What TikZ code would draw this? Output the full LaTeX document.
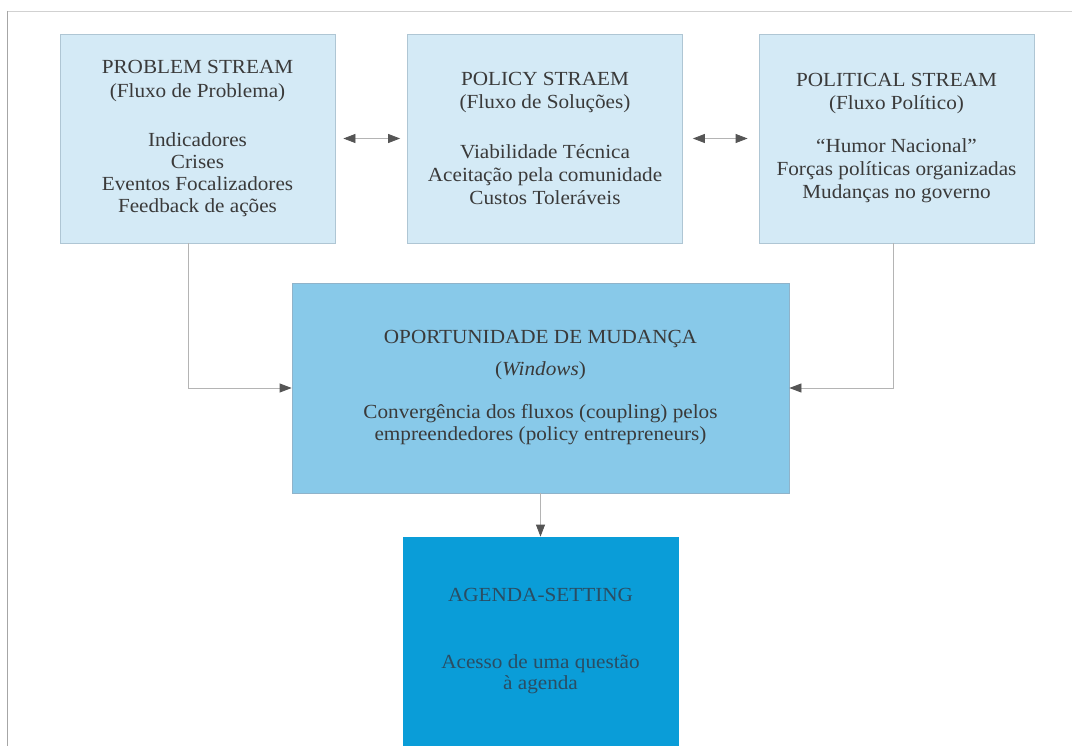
\documentclass[tikz,border=0pt]{standalone}
\usepackage{fontspec}
\setmainfont{Liberation Serif}[FakeStretch=1.06]
\usetikzlibrary{arrows.meta}
\definecolor{txt}{HTML}{3A3A3A}
\definecolor{topfill}{HTML}{D4EAF6}
\definecolor{topdraw}{HTML}{AFC6D4}
\definecolor{midfill}{HTML}{88C9E9}
\definecolor{middraw}{HTML}{8FB3CA}
\definecolor{agfill}{HTML}{0A9DD8}
\definecolor{agtxt}{HTML}{2A4D63}
\definecolor{linegray}{HTML}{B4B4B4}
\definecolor{headgray}{HTML}{555555}
\tikzset{
  box/.style={draw=topdraw, fill=topfill, line width=0.8pt, inner sep=0pt, align=center,
    text=txt, font=\fontsize{20}{22}\selectfont},
  topbox/.style={box, minimum width=275pt, minimum height=209pt},
  midbox/.style={box, fill=midfill, draw=middraw, minimum width=497pt, minimum height=210pt},
  agbox/.style={box, fill=agfill, draw=agfill, text=agtxt, minimum width=275pt, minimum height=209pt},
  conn/.style={draw=linegray, line width=0.8pt, -{Triangle[length=12pt,width=9pt,color=headgray]}},
  dconn/.style={draw=linegray, line width=0.8pt, {Triangle[length=12pt,width=9pt,color=headgray]}-{Triangle[length=12pt,width=9pt,color=headgray]}},
}
\begin{document}
\begin{tikzpicture}[x=1pt,y=-1pt]
\useasboundingbox (0,0) rectangle (1072,746);
\fill[white] (0,0) rectangle (1072,746);
\draw[draw=black!18, line width=0.8pt] (7,11) -- (1072,11);
\draw[draw=black!35, line width=1.4pt] (7.5,11) -- (7.5,746);

\node[topbox] (b1) at (197.5,138.5) {PROBLEM STREAM\\[2pt](Fluxo de Problema)\\[27pt]Indicadores\\Crises\\Eventos Focalizadores\\Feedback de ações};
\node[topbox] (b2) at (545,138.5) {POLICY STRAEM\\[1pt](Fluxo de Soluções)\\[28pt]Viabilidade Técnica\\[1pt]Aceitação pela comunidade\\[1pt]Custos Toleráveis};
\node[topbox] (b3) at (896.5,138.5) {POLITICAL STREAM\\[1pt](Fluxo Político)\\[21pt]“Humor Nacional”\\[1pt]Forças políticas organizadas\\[1pt]Mudanças no governo};
\node[midbox] (mid) at (540.5,388) {OPORTUNIDADE DE MUDANÇA\\[9.5pt](\textit{Windows})\\[21.5pt]Convergência dos fluxos (coupling) pelos\\empreendedores (policy entrepreneurs)};
\node[agbox] (ag) at (540.5,641.5) {AGENDA-SETTING\\[45pt]Acesso de uma questão\\[-1pt]à agenda};

\draw[dconn, shorten <=8pt, shorten >=7pt] (b1.east) -- (b2.west);
\draw[dconn, shorten <=10pt, shorten >=11pt] (b2.east) -- (b3.west);
\draw[conn] ([xshift=-9.5pt]b1.south) |- (mid.west);
\draw[conn] ([xshift=-3.5pt]b3.south) |- (mid.east);
\draw[conn] (mid.south) -- (ag.north);
\end{tikzpicture}
\end{document}
